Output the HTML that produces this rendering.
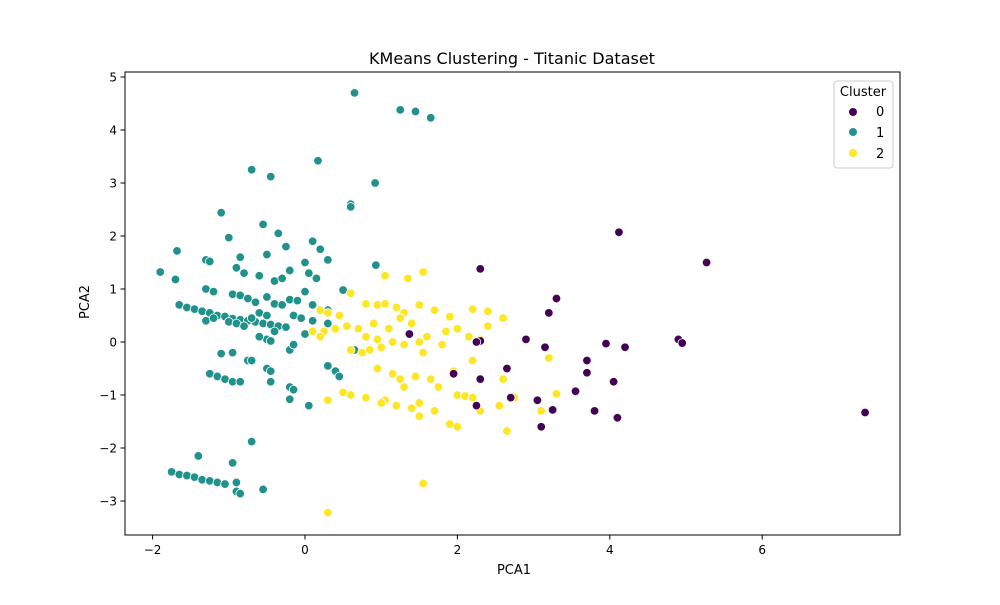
<!DOCTYPE html>
<html><head><meta charset="utf-8"><style>
body{margin:0;background:#fff;font-family:"Liberation Sans","DejaVu Sans",sans-serif}
svg text{font-family:"DejaVu Sans","Liberation Sans",sans-serif;fill:#000}
</style></head><body>
<svg id="chart" width="1000" height="600" xmlns="http://www.w3.org/2000/svg">
<rect width="1000" height="600" fill="#fff"/>
<text x="512" y="64" font-size="16" text-anchor="middle">KMeans Clustering - Titanic Dataset</text>
<g id="marks"></g>
<rect x="125" y="72" width="775" height="463" fill="none" stroke="#000" stroke-width="1"/>
<g id="xt"></g><g id="yt"></g>
<text x="514" y="574" font-size="13" text-anchor="middle">PCA1</text>
<text x="89" y="302" font-size="13" text-anchor="middle" transform="rotate(-90 89 302)">PCA2</text>
<g>
<rect x="834" y="81" width="59" height="87" rx="3" fill="#fff" fill-opacity="0.8" stroke="#ccc"/>
<text x="863" y="96" font-size="13" text-anchor="middle">Cluster</text>
<g><circle cx="853" cy="112" r="4" fill="#440154"/><text x="876" y="116" font-size="13">0</text></g>
<g><circle cx="853" cy="132" r="4" fill="#21918c"/><text x="876" y="137" font-size="13">1</text></g>
<g><circle cx="853" cy="153" r="4" fill="#fde725"/><text x="876" y="158" font-size="13">2</text></g>
</g>
</svg>
<script>
const xTicks=[-2,0,2,4,6];
const yTicks=[-3,-2,-1,0,1,2,3,4,5];
const clusterColors=["#440154","#21918c","#fde725"];
const cluster1=[[0.65,4.7],[1.25,4.38],[1.45,4.35],[1.65,4.23],[0.17,3.42],[0.92,3.0],[-0.7,3.25],[-0.45,3.12],[-1.1,2.44],[-0.55,2.22],[0.6,2.6],[0.6,2.55],[-1.0,1.97],[-0.35,2.05],[-0.25,1.8],[-0.5,1.65],[0.1,1.9],[0.2,1.75],[-1.68,1.72],[-1.3,1.55],[-1.25,1.52],[-0.85,1.6],[-1.9,1.32],[-1.7,1.18],[-0.9,1.4],[-0.8,1.3],[-0.6,1.25],[-0.4,1.15],[-0.3,1.2],[-0.2,1.35],[0.0,1.5],[0.05,1.3],[0.15,1.2],[0.3,1.55],[0.93,1.45],[-1.3,1.0],[-1.2,0.95],[-0.95,0.9],[-0.85,0.88],[-0.75,0.82],[-0.65,0.75],[-0.5,0.85],[-0.4,0.72],[-0.3,0.7],[-0.2,0.8],[-0.1,0.78],[0.0,0.95],[0.1,0.7],[0.5,0.98],[-1.65,0.7],[-1.55,0.65],[-1.45,0.62],[-1.35,0.58],[-1.25,0.55],[-1.15,0.5],[-1.05,0.48],[-0.95,0.44],[-0.85,0.42],[-0.75,0.4],[-0.65,0.38],[-0.55,0.35],[-0.45,0.33],[-0.35,0.3],[-0.25,0.28],[-0.15,0.5],[-0.05,0.45],[0.1,0.4],[0.3,0.35],[0.3,0.6],[-1.3,0.4],[-1.2,0.45],[-1.0,0.38],[-0.9,0.35],[-0.8,0.3],[-0.7,0.45],[-0.6,0.55],[-0.5,0.5],[-0.4,0.2],[-0.5,0.05],[-0.45,0.02],[-0.6,0.1],[-0.2,-0.15],[-0.15,-0.05],[0.0,0.15],[-1.25,-0.6],[-1.15,-0.65],[-1.05,-0.7],[-0.95,-0.75],[-0.85,-0.75],[-1.1,-0.22],[-0.95,-0.2],[-0.75,-0.35],[-0.7,-0.35],[-0.5,-0.5],[-0.45,-0.55],[-0.45,-0.75],[-0.2,-0.85],[-0.15,-0.9],[-0.2,-1.08],[0.05,-1.2],[0.4,-0.55],[0.45,-0.65],[0.65,-0.15],[0.3,-0.45],[-0.7,-1.88],[-1.75,-2.45],[-1.65,-2.5],[-1.55,-2.52],[-1.45,-2.55],[-1.35,-2.6],[-1.25,-2.62],[-1.15,-2.65],[-1.05,-2.68],[-1.4,-2.15],[-0.95,-2.28],[-0.9,-2.65],[-0.9,-2.82],[-0.85,-2.86],[-0.55,-2.78]];
const cluster2=[[1.05,1.25],[1.55,1.32],[1.35,1.2],[0.6,0.92],[0.8,0.72],[0.95,0.7],[1.05,0.72],[1.2,0.65],[1.3,0.55],[1.5,0.7],[1.7,0.6],[1.9,0.48],[2.2,0.62],[2.4,0.58],[2.6,0.45],[2.4,0.3],[1.25,0.45],[0.2,0.6],[0.3,0.55],[0.45,0.5],[0.55,0.3],[0.4,0.25],[0.25,0.2],[0.7,0.25],[0.9,0.35],[1.1,0.25],[0.8,0.1],[0.95,0.05],[1.15,0.0],[1.3,-0.05],[1.5,0.0],[1.6,0.1],[1.85,0.2],[2.0,0.25],[2.15,0.1],[1.4,0.35],[0.6,-0.15],[0.75,-0.2],[0.85,-0.15],[1.0,-0.1],[1.55,-0.2],[1.8,-0.05],[2.3,0.05],[0.95,-0.5],[1.15,-0.6],[1.25,-0.7],[1.45,-0.65],[1.3,-0.85],[1.65,-0.7],[1.75,-0.85],[1.95,-0.55],[2.2,-0.35],[2.6,-0.7],[2.0,-1.0],[2.1,-1.02],[2.2,-1.05],[1.7,-1.3],[1.5,-1.15],[1.4,-1.25],[1.2,-1.2],[1.05,-1.1],[1.0,-1.15],[0.8,-1.05],[0.6,-1.0],[0.5,-0.95],[0.3,-1.1],[1.9,-1.55],[2.0,-1.6],[2.3,-1.3],[2.55,-1.2],[2.65,-1.68],[3.2,-0.3],[3.3,-0.98],[3.1,-1.3],[2.75,-1.05],[0.3,-3.22],[1.55,-2.67],[1.5,-1.4],[0.2,0.1],[0.1,0.2]];
const cluster0=[[4.12,2.07],[5.27,1.5],[2.3,1.38],[3.3,0.82],[3.2,0.55],[4.9,0.05],[4.95,-0.02],[4.2,-0.1],[3.95,-0.03],[3.15,-0.1],[2.9,0.05],[2.3,0.02],[2.25,0.0],[3.7,-0.35],[3.7,-0.58],[3.55,-0.93],[4.05,-0.75],[3.8,-1.3],[4.1,-1.43],[3.25,-1.28],[3.05,-1.1],[3.1,-1.6],[2.7,-1.05],[2.65,-0.5],[2.3,-0.7],[2.25,-1.2],[7.35,-1.33],[1.95,-0.6],[1.37,0.15]];
const NS="http://www.w3.org/2000/svg";
const sx=v=>305+v*76.2, sy=v=>342-v*53;
const marks=document.getElementById('marks');
[[cluster1,1],[cluster2,2],[cluster0,0]].forEach(([pts,c])=>{
  pts.forEach(p=>{
    const e=document.createElementNS(NS,'circle');
    e.setAttribute('cx',sx(p[0]));e.setAttribute('cy',sy(p[1]));e.setAttribute('r',4.3);
    e.setAttribute('fill',clusterColors[c]);e.setAttribute('stroke','#fff');e.setAttribute('stroke-width','0.8');
    
    
    marks.appendChild(e);
  });
});
const xt=document.getElementById('xt');
xTicks.forEach(t=>{
  const g=document.createElementNS(NS,'g');
  
  
  g.innerHTML=`<line x1="${sx(t)}" x2="${sx(t)}" y1="535" y2="539.5" stroke="#000"/><text x="${sx(t)}" y="554" font-size="12" text-anchor="middle">${t<0?'\u2212'+(-t):t}</text>`;
  xt.appendChild(g);
});
const yt=document.getElementById('yt');
yTicks.forEach(t=>{
  const g=document.createElementNS(NS,'g');
  
  
  g.innerHTML=`<line x1="120.5" x2="125" y1="${sy(t)}" y2="${sy(t)}" stroke="#000"/><text x="117" y="${sy(t)+4.5}" font-size="12" text-anchor="end">${t<0?'\u2212'+(-t):t}</text>`;
  yt.appendChild(g);
});
</script>
</body></html>
